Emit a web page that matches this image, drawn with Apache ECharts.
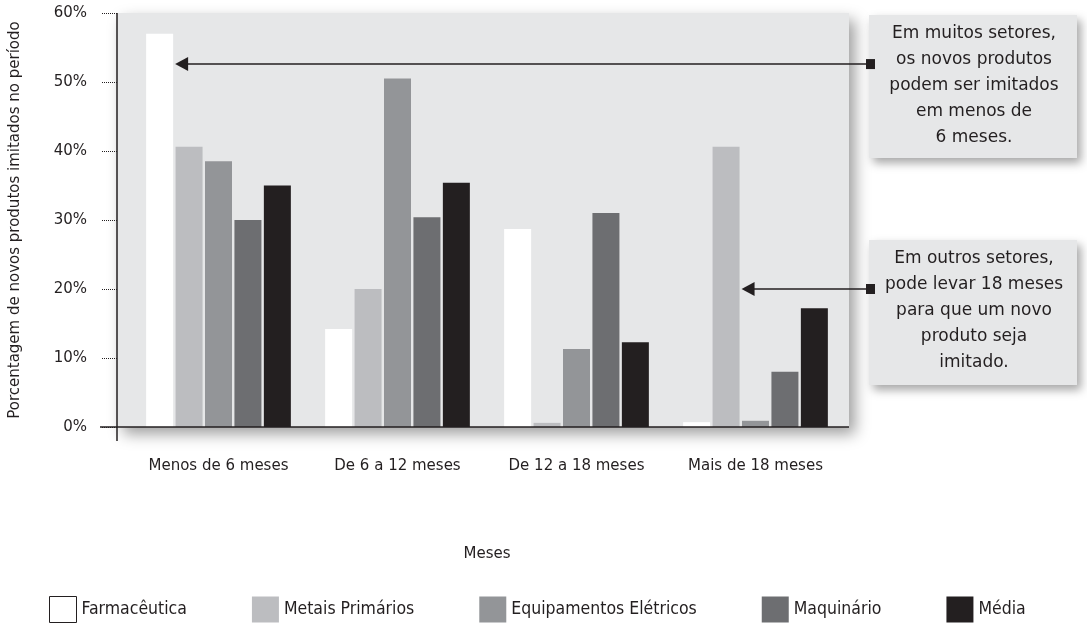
<!DOCTYPE html>
<html>
<head>
<meta charset="utf-8">
<script src="https://cdn.jsdelivr.net/npm/echarts@6/dist/echarts.min.js"></script>
<style>
  html, body { margin: 0; padding: 0; background: #ffffff; }
  #chart { width: 1087px; height: 624px; }
</style>
</head>
<body>
<div id="chart"></div>
<script>
// Categories and series (percent of new products imitated in each period)
const categories = ['Menos de 6 meses', 'De 6 a 12 meses', 'De 12 a 18 meses', 'Mais de 18 meses'];
const seriesNames = ['Farmacêutica', 'Metais Primários', 'Equipamentos Elétricos', 'Maquinário', 'Média'];
const farmaceutica = [57, 14.2, 28.7, 0.7];
const metaisPrimarios = [40.6, 20, 0.6, 40.6];
const equipamentosEletricos = [38.5, 50.5, 11.3, 0.9];
const maquinario = [30, 30.4, 31, 8];
const media = [35, 35.4, 12.3, 17.2];

// Value axis ticks
const yMin = 0;
const yMax = 60;
const yStep = 10;

// Callout notes
const noteA = ['Em muitos setores,', 'os novos produtos', 'podem ser imitados', 'em menos de', '6 meses.'];
const noteB = ['Em outros setores,', 'pode levar 18 meses', 'para que um novo', 'produto seja', 'imitado.'];

const palette = ['#ffffff', '#bcbdc0', '#939598', '#6d6e71', '#231f20'];
const ink = '#231f20';
const panelFill = '#e6e7e8';
const FONT = '"DejaVu Sans", "Open Sans", sans-serif';
const FONT_NARROW = '"DejaVu Sans Condensed", "Liberation Sans Narrow", "DejaVu Sans", sans-serif';

const BAR_W = 27;
const BAR_GAP = 0.09;
const values = [farmaceutica, metaisPrimarios, equipamentosEletricos, maquinario, media];

const chart = echarts.init(document.getElementById('chart'), null, { renderer: 'canvas' });

const option = {
  backgroundColor: '#ffffff',
  animation: false,
  textStyle: { fontFamily: FONT, color: ink },
  grid: { left: 129, right: 242, top: 13, bottom: 197, containLabel: false },
  legend: {
    left: 49,
    bottom: 1,
    padding: 0,
    itemWidth: 27,
    itemHeight: 26,
    itemGap: 65,
    icon: 'rect',
    textStyle: { fontFamily: FONT_NARROW, fontSize: 17.5, color: ink },
    data: seriesNames.map((n, i) => ({
      name: n,
      itemStyle: i === 0 ? { color: '#ffffff', borderColor: ink, borderWidth: 1 } : { color: palette[i] }
    }))
  },
  xAxis: {
    type: 'category',
    data: categories,
    name: 'Meses',
    nameLocation: 'middle',
    nameGap: 120,
    nameTextStyle: { fontFamily: FONT, fontSize: 15, color: ink },
    axisLine: { show: false },
    axisTick: { show: false },
    axisLabel: { interval: 0, fontFamily: FONT, fontSize: 15, color: ink, margin: 32 }
  },
  yAxis: {
    type: 'value',
    min: yMin,
    max: yMax,
    interval: yStep,
    offset: 12,
    name: 'Porcentagem de novos produtos imitados no período',
    nameLocation: 'middle',
    nameGap: 94,
    nameRotate: 90,
    nameTextStyle: { fontFamily: FONT, fontSize: 15, color: ink },
    axisLine: { show: false },
    axisTick: { show: true, length: 16, lineStyle: { type: 'dotted', color: ink, width: 1 } },
    splitLine: { show: false },
    axisLabel: { fontFamily: FONT, fontSize: 15, color: ink, margin: 30, formatter: '{value}%' }
  },
  series: seriesNames.map((n, i) => ({
    name: n,
    type: 'bar',
    data: values[i],
    barWidth: BAR_W,
    barGap: (BAR_GAP * 100) + '%',
    itemStyle: { color: palette[i] },
    z: 3
  }))
};

chart.setOption(option);

// Panel, axis lines and callouts placed from the axis scales
function px(cat, val) {
  return chart.convertToPixel({ xAxisIndex: 0, yAxisIndex: 0 }, [cat, val]);
}
const pitch = BAR_W * (1 + BAR_GAP);
const barRight = (cat, s) => px(cat, 0)[0] + (s - 2) * pitch + BAR_W / 2;

const basePt = px(0, yMin);
const topPt = px(0, yMax);
const axisX = basePt[0] - 89.5 - 12;
const gridRight = px(3, 0)[0] + 89.5;

const panelLeft = axisX;
const panelRight = gridRight + 4;

function callout(boxTop, boxBottom, lines, tipX, tipY) {
  const boxL = 869, boxR = 1077;
  const els = [];
  els.push({
    type: 'rect', z: 5,
    shape: { x: boxL, y: boxTop, width: boxR - boxL, height: boxBottom - boxTop },
    style: { fill: panelFill, shadowBlur: 9, shadowOffsetX: 4, shadowOffsetY: 5, shadowColor: 'rgba(0,0,0,0.35)' }
  });
  els.push({
    type: 'text', z: 6,
    style: {
      text: lines.join('\n'), x: (boxL + boxR) / 2 + 1, y: boxTop + 6,
      align: 'center', verticalAlign: 'top',
      font: '17px ' + FONT, lineHeight: 26, fill: ink
    }
  });
  els.push({
    type: 'line', z: 6,
    shape: { x1: tipX + 12, y1: tipY, x2: boxL, y2: tipY },
    style: { stroke: ink, lineWidth: 1.5 }
  });
  els.push({
    type: 'polygon', z: 6,
    shape: { points: [[tipX, tipY], [tipX + 13, tipY - 7], [tipX + 13, tipY + 7]] },
    style: { fill: ink }
  });
  els.push({
    type: 'rect', z: 7,
    shape: { x: boxL - 3, y: tipY - 5, width: 9, height: 10 },
    style: { fill: ink }
  });
  return els;
}

const tipA = px(0, 52.6);
const tipB = px(3, 20);

chart.setOption({
  graphic: [
    {
      type: 'rect', z: -10, silent: true,
      shape: { x: panelLeft, y: topPt[1], width: panelRight - panelLeft, height: basePt[1] - topPt[1] },
      style: { fill: panelFill, shadowBlur: 14, shadowOffsetX: 6, shadowOffsetY: 7, shadowColor: 'rgba(0,0,0,0.38)' }
    },
    {
      type: 'line', z: 10,
      shape: { x1: axisX - 17, y1: basePt[1], x2: panelRight, y2: basePt[1] },
      style: { stroke: ink, lineWidth: 1.5 }
    },
    {
      type: 'line', z: 10,
      shape: { x1: axisX, y1: topPt[1], x2: axisX, y2: basePt[1] + 14 },
      style: { stroke: ink, lineWidth: 1.5 }
    }
  ].concat(
    callout(15, 158, noteA, barRight(0, 0) + 2, tipA[1]),
    callout(240, 385, noteB, barRight(3, 1) + 2, tipB[1])
  )
});
</script>
</body>
</html>
